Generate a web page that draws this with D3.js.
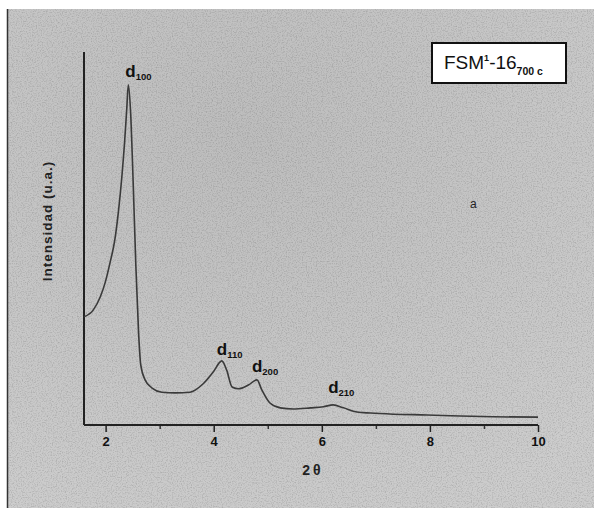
<!DOCTYPE html>
<html>
<head>
<meta charset="utf-8">
<script src="https://cdn.jsdelivr.net/npm/d3@7"></script>
<style>
  html, body { margin: 0; padding: 0; background: #fff; }
  svg { display: block; }
  text { font-family: "Liberation Sans", Arial, sans-serif; }
</style>
</head>
<body>
<svg id="chart" width="594" height="508"></svg>
<script>
// XRD pattern of FSM-16 calcined at 700 °C (2θ vs. intensity, arbitrary units)
const twoTheta = [1.60, 1.77, 1.90, 1.99, 2.08, 2.17, 2.24, 2.30, 2.35, 2.39, 2.42, 2.46, 2.51, 2.56, 2.61,
  2.65, 2.73, 2.86, 3.04, 3.29, 3.56, 3.80, 3.99, 4.15, 4.24, 4.34, 4.46, 4.64, 4.80, 4.89, 5.04,
  5.23, 5.47, 5.79, 6.03, 6.21, 6.40, 6.65, 6.90, 7.32, 7.95, 8.56, 9.17, 10.0];
const intensity = [29.0, 30.8, 34.3, 38.1, 43.4, 49.6, 57.6, 66.5, 75.6, 84.5, 91.2, 84.5, 64.9, 42.4, 24.7,
  16.1, 12.1, 9.9, 8.8, 8.6, 8.8, 11.0, 14.2, 17.2, 14.7, 10.2, 9.7, 10.7, 12.1, 9.4, 5.9,
  4.6, 4.3, 4.6, 4.9, 5.4, 4.6, 3.5, 3.2, 2.9, 2.7, 2.4, 2.2, 2.1];

// Reflections (Miller index subscripts) at their peak positions
const peakHkl = ["100", "110", "200", "210"];
const peakPos = [2.42, 4.15, 4.80, 6.21];
const peakInt = [91.2, 17.2, 12.1, 5.4];

const majorTicks = [2, 4, 6, 8, 10];
const minorTicks = [3, 5, 7, 9];

const svg = d3.select("#chart");
const W = 594, H = 508;

// paper background with grain
const defs = svg.append("defs");
const f = defs.append("filter").attr("id", "grain").attr("x", 0).attr("y", 0)
  .attr("width", "100%").attr("height", "100%");
f.append("feTurbulence").attr("type", "fractalNoise").attr("baseFrequency", 0.8)
  .attr("numOctaves", 2).attr("seed", 7).attr("result", "n");
f.append("feColorMatrix").attr("type", "matrix")
  .attr("values", "0 0 0 0 0  0 0 0 0 0  0 0 0 0 0  0 0 0 -1.1 0.62");
const shade = defs.append("radialGradient").attr("id", "shade")
  .attr("cx", "0.4").attr("cy", "0.25").attr("r", "0.85");
shade.append("stop").attr("offset", "0%").attr("stop-color", "#bdbdbd");
shade.append("stop").attr("offset", "100%").attr("stop-color", "#cdcdcd");

svg.append("rect").attr("x", 7).attr("y", 9).attr("width", W - 7).attr("height", H - 9)
  .attr("fill", "url(#shade)");
svg.append("rect").attr("x", 7).attr("y", 9).attr("width", W - 7).attr("height", H - 9)
  .attr("filter", "url(#grain)").attr("opacity", 0.3);
svg.append("line").attr("x1", 7.5).attr("x2", 7.5).attr("y1", 9).attr("y2", H)
  .attr("stroke", "#333").attr("stroke-width", 1.5);

const x = d3.scaleLinear().domain([1.6, 10]).range([84, 538]);
const y = d3.scaleLinear().domain([0, 100]).range([425, 52]);

// axes
const xAxis = d3.axisBottom(x).tickValues(majorTicks).tickSize(7).tickPadding(5)
  .tickFormat(d3.format("d"));
const gx = svg.append("g").attr("transform", "translate(0,425)").call(xAxis);
gx.select(".domain").remove();
gx.selectAll(".tick line").attr("stroke", "#222").attr("stroke-width", 1.5);
gx.selectAll(".tick text").attr("fill", "#111").attr("font-size", 13).attr("font-weight", "bold");

const gxm = svg.append("g").attr("transform", "translate(0,425)")
  .call(d3.axisBottom(x).tickValues(minorTicks).tickSize(4).tickFormat(""));
gxm.select(".domain").remove();
gxm.selectAll(".tick line").attr("stroke", "#333").attr("stroke-width", 1.5);

svg.append("line").attr("x1", x(1.6)).attr("x2", x(10)).attr("y1", 425).attr("y2", 425)
  .attr("stroke", "#222").attr("stroke-width", 2);
svg.append("line").attr("x1", x(1.6)).attr("x2", x(1.6)).attr("y1", y(100)).attr("y2", 425)
  .attr("stroke", "#222").attr("stroke-width", 2);

// axis titles
svg.append("text").attr("x", 313).attr("y", 475).attr("text-anchor", "middle")
  .attr("font-size", 14).attr("font-weight", "bold").attr("fill", "#222")
  .attr("letter-spacing", 3).text("2θ");
svg.append("text").attr("transform", "translate(52,221) rotate(-90)")
  .attr("text-anchor", "middle").attr("font-size", 13.5).attr("font-weight", "bold")
  .attr("fill", "#222").attr("letter-spacing", 1).text("Intensidad (u.a.)");

// diffraction curve
const pts = twoTheta.map((t, i) => [t, intensity[i]]);
svg.append("path").datum(pts)
  .attr("fill", "none").attr("stroke", "#3a3a3a").attr("stroke-width", 1.6)
  .attr("d", d3.line().x(d => x(d[0])).y(d => y(d[1])).curve(d3.curveMonotoneX));

// reflection labels
const labOff = [[-3, -8], [-5, -6], [-5, -8], [-5, -12]];
peakHkl.forEach((h, i) => {
  const t = svg.append("text")
    .attr("x", x(peakPos[i]) + labOff[i][0]).attr("y", y(peakInt[i]) + labOff[i][1])
    .attr("font-weight", "bold").attr("fill", "#111");
  t.append("tspan").attr("font-size", 17).text("d");
  t.append("tspan").attr("font-size", 9.5).attr("dy", 3).text(h);
});

// sample tag
svg.append("rect").attr("x", 432).attr("y", 43).attr("width", 134).attr("height", 40)
  .attr("fill", "#fff").attr("stroke", "#111").attr("stroke-width", 2);
const tag = svg.append("text").attr("x", 444).attr("y", 69).attr("fill", "#111");
tag.append("tspan").attr("font-size", 19).text("FSM");
tag.append("tspan").attr("font-size", 9).attr("font-weight", "bold").attr("dy", -8).text("1");
tag.append("tspan").attr("font-size", 19).attr("dy", 8).text("-16");
tag.append("tspan").attr("font-size", 10.5).attr("font-weight", "bold").attr("dy", 6).text("700 c");

svg.append("text").attr("x", 470).attr("y", 208).attr("font-size", 12)
  .attr("fill", "#222").text("a");
</script>
</body>
</html>
